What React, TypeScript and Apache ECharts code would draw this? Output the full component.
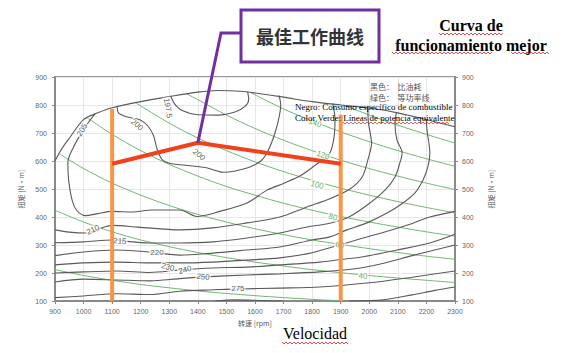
import React, { useEffect, useRef } from "react";
import * as echarts from "echarts";

// ---------- tick labels ----------
const rpmTicks = [900, 1000, 1100, 1200, 1300, 1400, 1500, 1600, 1700, 1800, 1900, 2000, 2100, 2200, 2300];
const torqueTicks = [100, 200, 300, 400, 500, 600, 700, 800, 900];

// ---------- full-load (max torque) curve ----------
const fullLoad = [[900, 600], [925, 646], [952, 684], [1000, 748], [1050, 772], [1100, 790], [1200, 812], [1300, 830], [1400, 846], [1470, 852], [1550, 849], [1600, 843], [1700, 828], [1800, 812], [1900, 800], [2000, 789], [2100, 772], [2200, 748], [2300, 722]];

// ---------- BSFC contours (black) ----------
const bsfc1975 = [[1305, 832], [1318, 805], [1345, 780], [1400, 765], [1470, 764], [1530, 775], [1565, 795], [1578, 820], [1574, 848]];
const bsfc200 = [[1118, 792], [1122, 772], [1150, 758], [1195, 748], [1225, 725], [1245, 690], [1258, 640], [1275, 605], [1300, 592], [1383, 582], [1430, 576], [1490, 560], [1572, 575], [1620, 600], [1645, 635], [1670, 700], [1685, 760], [1690, 800], [1684, 834]];
const bsfc205 = [[1040, 768], [1015, 735], [995, 705], [965, 650], [945, 595], [948, 530], [960, 460], [975, 425], [1005, 405], [1050, 412], [1100, 420], [1170, 418], [1240, 425], [1337, 425], [1397, 402], [1477, 420], [1572, 450], [1642, 496], [1700, 520], [1760, 548], [1820, 592], [1860, 625], [1876, 680], [1880, 750], [1872, 806]];
const bsfc210 = [[900, 354], [950, 346], [1010, 343], [1060, 360], [1100, 370], [1190, 364], [1337, 354], [1453, 361], [1572, 379], [1687, 400], [1782, 436], [1862, 465], [1932, 500], [1975, 543], [1995, 604], [2008, 664], [1997, 736], [1995, 789]];
const bsfc215 = [[900, 308], [1000, 311], [1100, 318], [1173, 311], [1240, 307], [1337, 307], [1453, 311], [1572, 325], [1687, 343], [1782, 364], [1862, 378], [1932, 402], [2002, 450], [2055, 496], [2090, 543], [2107, 593], [2115, 629], [2097, 675], [2090, 736], [2095, 773]];
const bsfc220 = [[900, 262], [1000, 275], [1117, 282], [1232, 275], [1337, 264], [1453, 271], [1572, 282], [1687, 293], [1800, 318], [1862, 329], [1922, 354], [1992, 379], [2062, 414], [2118, 450], [2160, 486], [2188, 532], [2205, 579], [2212, 629], [2202, 711], [2200, 750]];
const bsfc230 = [[900, 229], [1000, 236], [1117, 239], [1232, 236], [1337, 236], [1453, 239], [1572, 246], [1687, 254], [1790, 270], [1862, 290], [1978, 325], [2072, 352], [2153, 378], [2212, 400], [2300, 420]];
const bsfc240 = [[900, 200], [1000, 204], [1117, 207], [1232, 202], [1337, 211], [1453, 218], [1572, 221], [1687, 229], [1827, 239], [1900, 248], [1978, 258], [2097, 282], [2212, 307], [2300, 338]];
const bsfc250 = [[900, 168], [1000, 178], [1117, 175], [1232, 172], [1337, 180], [1418, 186], [1572, 193], [1687, 197], [1827, 204], [1950, 215], [2050, 235], [2150, 262], [2300, 300]];
const bsfc275 = [[900, 112], [1000, 118], [1117, 126], [1232, 123], [1337, 135], [1453, 140], [1540, 143], [1687, 146], [1827, 150], [2000, 165], [2150, 185], [2300, 207]];
const bsfc300a = [[1460, 100], [1530, 104], [1620, 102], [1700, 100]];
const bsfc300b = [[1930, 100], [2050, 104], [2150, 122], [2230, 138], [2300, 150]];

// ---------- iso-power lines (green) ----------
const power20 = [[900, 212], [1000, 191], [1100, 174], [1200, 159], [1300, 147], [1400, 136], [1500, 127], [1600, 119], [1700, 112], [1800, 106], [1910, 100]];
const power40 = [[900, 424], [1000, 382], [1100, 347], [1200, 318], [1300, 294], [1400, 273], [1500, 255], [1600, 239], [1700, 225], [1800, 212], [1900, 201], [2000, 191], [2100, 182], [2200, 174], [2300, 166]];
const power60 = [[918, 624], [1000, 573], [1100, 521], [1200, 478], [1300, 441], [1400, 409], [1500, 382], [1600, 358], [1700, 337], [1800, 318], [1900, 302], [2000, 287], [2100, 273], [2200, 260], [2300, 249]];
const power80 = [[1012, 755], [1100, 695], [1200, 637], [1300, 588], [1400, 546], [1500, 509], [1600, 478], [1700, 449], [1800, 424], [1900, 402], [2000, 382], [2100, 364], [2200, 347], [2300, 332]];
const power100 = [[1182, 808], [1300, 735], [1400, 682], [1500, 637], [1600, 597], [1700, 562], [1800, 531], [1900, 503], [2000, 478], [2100, 455], [2200, 434], [2300, 415]];
const power120 = [[1360, 840], [1400, 819], [1500, 764], [1600, 716], [1700, 674], [1800, 637], [1900, 603], [2000, 573], [2100, 546], [2200, 521], [2300, 498]];
const power140 = [[1585, 844], [1700, 786], [1800, 743], [1900, 704], [2000, 669], [2100, 637], [2200, 608], [2300, 581]];
const power160 = [[1910, 800], [2000, 764], [2100, 728], [2200, 695], [2300, 664]];

// ---------- contour labels: [text, rpm, torque] ----------
const bsfcLabels: [string, number, number][] = [
  ["197.5", 1295, 789], ["200", 1187, 729], ["200", 1404, 622], ["205", 995, 711],
  ["210", 1033, 354], ["215", 1127, 314], ["220", 1257, 275], ["230", 1295, 221],
  ["240", 1355, 211], ["250", 1418, 186], ["275", 1540, 143],
];
const powerLabels: [string, number, number][] = [
  ["140", 1810, 736], ["120", 1838, 621], ["100", 1817, 514], ["80", 1873, 400], ["60", 1897, 300], ["40", 1978, 189],
];

// ---------- best working curve & speed bounds ----------
const optimalCurve = [[1100, 590], [1400, 665], [1900, 590]];
const boundLow = [[1100, 100], [1100, 786]];
const boundHigh = [[1900, 100], [1900, 765]];

// styles (kept apart from data)
const bsfcRot = [-80, -40, -40, 60, 25, -5, 0, -15, 15, -5, 0];
const powerRot = [-20, -20, -15, -15, -10, -5];
const GRAY = "#5a5a5a";
const GREEN = "#72b572";

function wavy(x0: number, x1: number, y: number) {
  const pts: number[][] = [];
  let up = true;
  for (let x = x0; x <= x1; x += 2) {
    pts.push([x, y + (up ? -1 : 1)]);
    up = !up;
  }
  return pts;
}

export default function App() {
  const ref = useRef<HTMLDivElement>(null);
  useEffect(() => {
    const chart = echarts.init(ref.current!, null, { renderer: "svg" });

    const grayLines = [fullLoad, bsfc1975, bsfc200, bsfc205, bsfc210, bsfc215, bsfc220, bsfc230, bsfc240, bsfc250, bsfc275, bsfc300a, bsfc300b];
    const greenLines = [power20, power40, power60, power80, power100, power120, power140, power160];

    const series: any[] = [];
    greenLines.forEach((d) =>
      series.push({
        type: "line", data: d, symbol: "none", smooth: 0.3, silent: true, z: 2,
        lineStyle: { color: GREEN, width: 1 },
      })
    );
    grayLines.forEach((d) =>
      series.push({
        type: "line", data: d, symbol: "none", smooth: 0.3, silent: true, z: 3,
        lineStyle: { color: GRAY, width: 1.1 },
      })
    );
    series.push({
      type: "scatter", symbolSize: 1, silent: true, z: 6,
      itemStyle: { color: "rgba(0,0,0,0)" },
      data: bsfcLabels.map((l, i) => ({ name: l[0], value: [l[1], l[2]], label: { rotate: bsfcRot[i] } })),
      label: {
        show: true, formatter: "{b}", position: "inside", fontSize: 8, color: "#333",
        fontFamily: "Liberation Sans", backgroundColor: "#fff", padding: [0, 1],
      },
    });
    series.push({
      type: "scatter", symbolSize: 1, silent: true, z: 6,
      itemStyle: { color: "rgba(0,0,0,0)" },
      data: powerLabels.map((l, i) => ({ name: l[0], value: [l[1], l[2]], label: { rotate: powerRot[i] } })),
      label: {
        show: true, formatter: "{b}", position: "inside", fontSize: 8, color: "#3f9a3f",
        fontFamily: "Liberation Sans", backgroundColor: "#fff", padding: [0, 1],
      },
    });
    [boundLow, boundHigh].forEach((d) =>
      series.push({
        type: "line", data: d, symbol: "none", silent: true, z: 8,
        lineStyle: { color: "#f79646", width: 4 },
      })
    );
    series.push({
      type: "line", data: optimalCurve, symbol: "none", silent: true, z: 9,
      lineStyle: { color: "#f2401a", width: 4 },
    });

    const plain = (v: number) => String(v);
    const axisCommon = {
      type: "value",
      axisLine: { show: true, lineStyle: { color: "#8a8a8a", width: 2 } },
      axisTick: { show: true, length: 3, lineStyle: { color: "#8a8a8a" } },
      axisLabel: { fontSize: 7, color: "#666", fontFamily: "Liberation Sans", formatter: plain },
      nameTextStyle: { fontSize: 7, color: "#555", fontFamily: "Noto Sans CJK SC" },
    };

    chart.setOption({
      animation: false,
      backgroundColor: "#fff",
      grid: { left: 55, right: 110, top: 77, bottom: 52, show: true, borderColor: "#9a9a9a", borderWidth: 2 },
      xAxis: {
        ...axisCommon,
        min: rpmTicks[0], max: rpmTicks[rpmTicks.length - 1], interval: rpmTicks[1] - rpmTicks[0],
        axisLabel: { ...axisCommon.axisLabel, margin: 7 },
        splitLine: { show: true, lineStyle: { color: "#e6e6e6", width: 1 } },
        name: "转速 [rpm]", nameLocation: "middle", nameGap: 17,
      },
      yAxis: [
        {
          ...axisCommon,
          min: torqueTicks[0], max: torqueTicks[torqueTicks.length - 1], interval: torqueTicks[1] - torqueTicks[0],
          axisLabel: { ...axisCommon.axisLabel, margin: 8 },
          splitLine: { show: true, lineStyle: { color: "#e6e6e6", width: 1 } },
          name: "扭矩 [N·m]", nameLocation: "middle", nameRotate: 90, nameGap: 30,
        },
        {
          ...axisCommon,
          position: "right",
          min: torqueTicks[0], max: torqueTicks[torqueTicks.length - 1], interval: torqueTicks[1] - torqueTicks[0],
          axisLabel: { ...axisCommon.axisLabel, margin: 7 },
          splitLine: { show: false },
          name: "扭矩 [N·m]", nameLocation: "middle", nameRotate: 90, nameGap: 32,
        },
      ],
      series,
    });

    const p = chart.convertToPixel({ xAxisIndex: 0, yAxisIndex: 0 }, optimalCurve[1]) as number[];

    const serif = "Liberation Serif";
    const red = { stroke: "#e02020", lineWidth: 0.8, fill: null };
    const graphic: any[] = [
      // callout line
      {
        type: "polyline", z: 100,
        shape: { points: [[p[0], p[1]], [221, 33], [241, 33]] },
        style: { stroke: "#7030a0", lineWidth: 3, fill: null },
      },
      {
        type: "rect", z: 100,
        shape: { x: 241, y: 10, width: 138, height: 52 },
        style: { stroke: "#7030a0", lineWidth: 3, fill: "#fff" },
      },
      {
        type: "text", z: 101,
        style: {
          text: "最佳工作曲线", x: 310, y: 36, textAlign: "center", textVerticalAlign: "middle",
          font: "bold 18px 'Noto Sans CJK SC'", fill: "#333",
        },
      },
      // title
      {
        type: "text", z: 101,
        style: { text: "Curva de", x: 471, y: 25, textAlign: "center", textVerticalAlign: "middle", font: `bold 16px '${serif}'`, fill: "#000" },
      },
      {
        type: "text", z: 101,
        style: { text: "funcionamiento mejor", x: 471, y: 45, textAlign: "center", textVerticalAlign: "middle", font: `bold 16px '${serif}'`, fill: "#000" },
      },
      { type: "polyline", z: 101, shape: { points: wavy(439, 504, 34) }, style: red },
      { type: "polyline", z: 101, shape: { points: wavy(392, 493, 53) }, style: red },
      { type: "polyline", z: 101, shape: { points: wavy(511, 550, 53) }, style: red },
      // x caption
      {
        type: "text", z: 101,
        style: { text: "Velocidad", x: 315, y: 333, textAlign: "center", textVerticalAlign: "middle", font: `16px '${serif}'`, fill: "#000" },
      },
      { type: "polyline", z: 101, shape: { points: wavy(282, 348, 343) }, style: red },
      // legend in plot (Chinese)
      {
        type: "text", z: 101,
        style: { text: "黑色：  比油耗", x: 370, y: 86, textAlign: "left", textVerticalAlign: "middle", font: "8px 'Noto Sans CJK SC'", fill: "#555" },
      },
      {
        type: "text", z: 101,
        style: { text: "绿色：  等功率线", x: 370, y: 97, textAlign: "left", textVerticalAlign: "middle", font: "8px 'Noto Sans CJK SC'", fill: "#555" },
      },
      // legend translation
      {
        type: "text", z: 101,
        style: { text: "Negro: Consumo específico de combustible", x: 295, y: 107, textAlign: "left", textVerticalAlign: "middle", font: `9px '${serif}'`, fill: "#000" },
      },
      {
        type: "text", z: 101,
        style: { text: "Color Verde: Líneas de potencia equivalente", x: 295, y: 118, textAlign: "left", textVerticalAlign: "middle", font: `9px '${serif}'`, fill: "#000" },
      },
      { type: "polyline", z: 101, shape: { points: wavy(343, 450, 123) }, style: { ...red, lineWidth: 0.7 } },
    ];
    chart.setOption({ graphic });

    return () => chart.dispose();
  }, []);
  return (
    <div
      ref={ref}
      style={{ position: "fixed", left: 0, top: 0, width: 565, height: 353, background: "#fff" }}
    />
  );
}
